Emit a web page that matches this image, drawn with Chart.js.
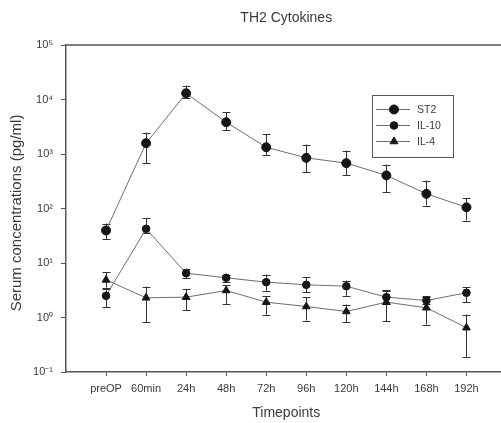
<!DOCTYPE html>
<html>
<head>
<meta charset="utf-8">
<title>TH2 Cytokines</title>
<script src="https://cdn.jsdelivr.net/npm/chart.js@4/dist/chart.umd.min.js"></script>
<style>
  html, body { margin: 0; padding: 0; background: #fff; overflow: hidden; }
  #wrap { position: relative; width: 512px; height: 423px; }
</style>
</head>
<body>
<div id="wrap"><canvas id="chart" width="512" height="423"></canvas></div>
<script>
// Sampling times
const timepoints = ['preOP', '60min', '24h', '48h', '72h', '96h', '120h', '144h', '168h', '192h'];

// ST2 (pg/ml): mean with lower / upper error limits
const st2Mean = [39.5, 1580, 13000, 3830, 1330, 850, 680, 405, 186, 105];
const st2Low  = [27, 680, 10500, 2700, 940, 460, 405, 198, 113, 60];
const st2High = [53, 2460, 18000, 5850, 2280, 1490, 1150, 640, 325, 153];

// IL-10 (pg/ml)
const il10Mean = [2.5, 42.4, 6.5, 5.35, 4.45, 3.98, 3.75, 2.36, 2.05, 2.84];
const il10Low  = [1.55, 35, 5.2, 4.45, 3.1, 2.9, 2.5, 1.8, 1.75, 1.9];
const il10High = [3.3, 65.6, 7.9, 6.15, 6.15, 5.5, 4.77, 3.22, 2.5, 3.6];

// IL-4 (pg/ml)
const il4Mean = [4.9, 2.3, 2.36, 3.13, 1.91, 1.59, 1.29, 1.91, 1.51, 0.65];
const il4Low  = [3.55, 0.82, 1.38, 1.78, 1.13, 0.88, 0.82, 0.86, 0.74, 0.19];
const il4High = [6.8, 3.7, 3.36, 3.87, 2.43, 2.36, 1.73, 3.1, 2.33, 1.13];

// Decade exponents shown on the log axis
const yTickPowers = [-1, 0, 1, 2, 3, 4, 5];

const titleText = 'TH2 Cytokines';
const xTitleText = 'Timepoints';
const yTitleText = 'Serum concentrations (pg/ml)';

const FONT = '"Liberation Sans", Arial, sans-serif';
const TEXT = '#3a3a3a';
const AXIS = '#555';
const LINE = '#6e6e6e';

const SUP = { '-': '\u207B', '0': '\u2070', '1': '\u00B9', '2': '\u00B2', '3': '\u00B3',
              '4': '\u2074', '5': '\u2075', '6': '\u2076', '7': '\u2077', '8': '\u2078', '9': '\u2079' };
const sup = n => String(n).split('').map(c => SUP[c]).join('');

const toPoints = arr => arr.map((v, i) => ({ x: i, y: v }));

function series(label, mean, low, high, style, radius) {
  return {
    label,
    data: toPoints(mean),
    errLow: low,
    errHigh: high,
    borderColor: LINE,
    borderWidth: 1,
    pointStyle: style,
    pointRadius: radius,
    pointHoverRadius: radius,
    pointBackgroundColor: '#151515',
    pointBorderColor: '#151515',
    pointBorderWidth: 1,
    tension: 0,
    fill: false
  };
}

// Vertical error bars with caps, drawn beneath the markers
const errorBars = {
  id: 'errorBars',
  beforeDatasetsDraw(chart) {
    const { ctx, scales: { x, y } } = chart;
    ctx.save();
    ctx.strokeStyle = '#333';
    ctx.lineWidth = 1;
    chart.data.datasets.forEach(ds => {
      ds.data.forEach((p, i) => {
        const px = Math.round(x.getPixelForValue(p.x)) + 0.5;
        const yl = y.getPixelForValue(ds.errLow[i]);
        const yh = y.getPixelForValue(ds.errHigh[i]);
        ctx.beginPath();
        ctx.moveTo(px, yl); ctx.lineTo(px, yh);
        ctx.moveTo(px - 4, Math.round(yl) + 0.5); ctx.lineTo(px + 4, Math.round(yl) + 0.5);
        ctx.moveTo(px - 4, Math.round(yh) + 0.5); ctx.lineTo(px + 4, Math.round(yh) + 0.5);
        ctx.stroke();
      });
    });
    ctx.restore();
  }
};

// Frame top line, titles and the boxed legend
const decorations = {
  id: 'decorations',
  afterDraw(chart) {
    const { ctx, chartArea: a } = chart;
    const cx = (a.left + a.right) / 2;
    ctx.save();
    ctx.strokeStyle = AXIS;
    ctx.lineWidth = 1.5;
    ctx.beginPath();
    ctx.moveTo(a.left, a.top); ctx.lineTo(chart.width, a.top);
    ctx.stroke();

    ctx.fillStyle = TEXT;
    ctx.textAlign = 'center';
    ctx.textBaseline = 'middle';
    ctx.font = '14px ' + FONT;
    ctx.fillText(titleText, cx, 18);
    ctx.font = '14px ' + FONT;
    ctx.fillText(xTitleText, cx, 413);
    ctx.save();
    ctx.translate(17, 213);
    ctx.rotate(-Math.PI / 2);
    ctx.font = '15px ' + FONT;
    ctx.fillText(yTitleText, 0, 0);
    ctx.restore();

    // legend
    const lx = 372, ly = 95, lw = 81, lh = 62;
    ctx.lineWidth = 1;
    ctx.strokeStyle = AXIS;
    ctx.strokeRect(lx + 0.5, ly + 0.5, lw, lh);
    ctx.font = '10.5px ' + FONT;
    ctx.textAlign = 'left';
    chart.data.datasets.forEach((ds, k) => {
      const yy = ly + 14 + k * 16;
      ctx.strokeStyle = LINE;
      ctx.beginPath();
      ctx.moveTo(lx + 4, yy + 0.5); ctx.lineTo(lx + 38, yy + 0.5);
      ctx.stroke();
      ctx.fillStyle = '#151515';
      ctx.strokeStyle = '#151515';
      Chart.helpers.drawPoint(ctx, { pointStyle: ds.pointStyle, radius: ds.pointRadius, rotation: 0, borderWidth: 1 }, lx + 22, yy + 0.5);
      ctx.fillStyle = TEXT;
      ctx.fillText(ds.label, lx + 45, yy + 1);
    });
    ctx.restore();
  }
};

new Chart(document.getElementById('chart'), {
  type: 'line',
  data: {
    datasets: [
      series('ST2', st2Mean, st2Low, st2High, 'circle', 4.5),
      series('IL-10', il10Mean, il10Low, il10High, 'circle', 3.8),
      series('IL-4', il4Mean, il4Low, il4High, 'triangle', 4.5)
    ]
  },
  options: {
    responsive: false,
    animation: false,
    events: [],
    layout: { padding: { top: 45, right: 4, left: 0, bottom: 0 } },
    plugins: { legend: { display: false }, title: { display: false }, tooltip: { enabled: false } },
    scales: {
      x: {
        type: 'linear',
        min: -1,
        max: 10,
        afterBuildTicks: s => { s.ticks = timepoints.map((_, i) => ({ value: i })); },
        afterFit: s => { s.height = 51; },
        ticks: {
          callback: v => timepoints[v],
          autoSkip: false,
          maxRotation: 0,
          padding: 6,
          color: TEXT,
          font: { family: FONT, size: 11 }
        },
        grid: { display: true, drawOnChartArea: false, drawTicks: true, tickLength: 4, color: AXIS },
        border: { display: true, color: AXIS, width: 1.5 }
      },
      y: {
        type: 'logarithmic',
        min: 0.1,
        max: 100000,
        afterBuildTicks: s => { s.ticks = yTickPowers.map(p => ({ value: Math.pow(10, p) })); },
        afterFit: s => { s.width = 66; },
        ticks: {
          callback: v => '10' + sup(Math.round(Math.log10(v))),
          autoSkip: false,
          padding: 8,
          color: TEXT,
          font: { family: FONT, size: 11 }
        },
        grid: { display: true, drawOnChartArea: false, drawTicks: true, tickLength: 5, color: AXIS },
        border: { display: true, color: AXIS, width: 1.5 }
      }
    }
  },
  plugins: [errorBars, decorations]
});
</script>
</body>
</html>
